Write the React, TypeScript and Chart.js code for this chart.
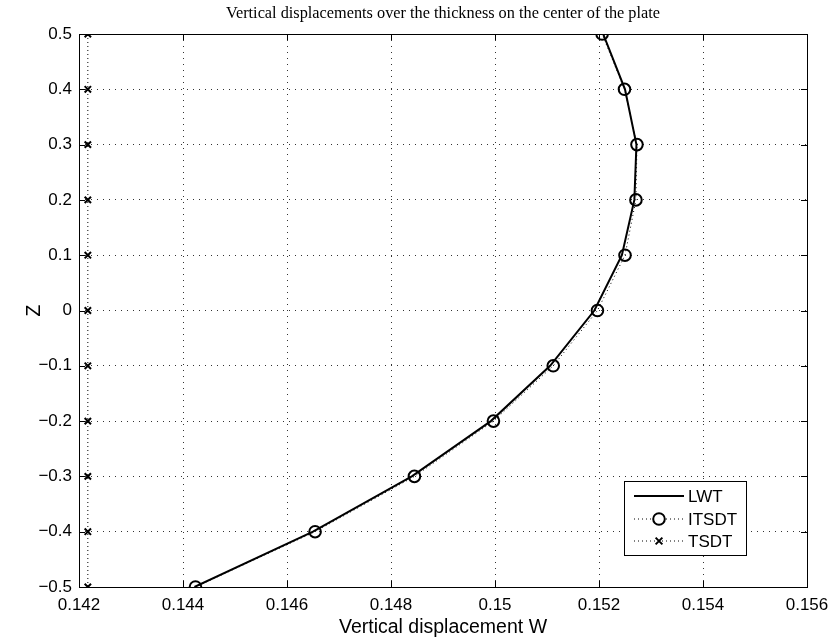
import React, { useEffect, useRef } from "react";
import { Chart, registerables } from "chart.js";

Chart.register(...registerables);

const zValues = [-0.5, -0.4, -0.3, -0.2, -0.1, 0, 0.1, 0.2, 0.3, 0.4, 0.5];
const lwtW = [0.14422, 0.1465, 0.1484, 0.14992, 0.15106, 0.15191, 0.15244, 0.15268, 0.15272, 0.1525, 0.15208];
const itsdtW = [0.14424, 0.14654, 0.14845, 0.14997, 0.15112, 0.15197, 0.1525, 0.15271, 0.15273, 0.15249, 0.15206];
const tsdtW = [0.14217, 0.14217, 0.14217, 0.14217, 0.14217, 0.14217, 0.14217, 0.14217, 0.14217, 0.14217, 0.14217];
const seriesLabels = ["LWT", "ITSDT", "TSDT"];
const titleText = "Vertical displacements over the thickness on the center of the plate";
const xTitle = "Vertical displacement W";
const yTitle = "Z";

const SANS = "'Liberation Sans', Arial, sans-serif";
const SERIF = "'Liberation Serif', 'Times New Roman', serif";

const boxPlugin = {
  id: "matlabBox",
  afterDraw(chart: any) {
    const { ctx, chartArea: a } = chart;
    ctx.save();
    ctx.fillStyle = "#000";
    ctx.font = "16.3px " + SERIF;
    ctx.textAlign = "center";
    ctx.textBaseline = "middle";
    ctx.fillText(chart.options.plugins.title.text, (a.left + a.right) / 2, 14);
    ctx.restore();
  },
  afterDatasetsDraw(chart: any) {
    const { ctx, chartArea: a, scales } = chart;
    ctx.save();
    ctx.strokeStyle = "#000";
    ctx.lineWidth = 1;
    ctx.setLineDash([]);
    const tl = 6;
    scales.x.ticks.forEach((t: any) => {
      const x = Math.round(scales.x.getPixelForValue(t.value)) + 0.5;
      ctx.beginPath();
      ctx.moveTo(x, a.bottom);
      ctx.lineTo(x, a.bottom - tl);
      ctx.moveTo(x, a.top);
      ctx.lineTo(x, a.top + tl);
      ctx.stroke();
    });
    scales.y.ticks.forEach((t: any) => {
      const y = Math.round(scales.y.getPixelForValue(t.value)) + 0.5;
      ctx.beginPath();
      ctx.moveTo(a.left, y);
      ctx.lineTo(a.left + tl, y);
      ctx.moveTo(a.right, y);
      ctx.lineTo(a.right - tl, y);
      ctx.stroke();
    });
    ctx.strokeRect(Math.round(a.left) + 0.5, Math.round(a.top) + 0.5, Math.round(a.right - a.left), Math.round(a.bottom - a.top));

    // legend
    const bx = 624.5, by = 481.5, bw = 122, bh = 74;
    ctx.fillStyle = "#fff";
    ctx.fillRect(bx, by, bw, bh);
    ctx.strokeRect(bx, by, bw, bh);
    const rows = [496, 519, 541];
    const ds = chart.data.datasets;
    ctx.font = "17px " + SANS;
    ctx.textBaseline = "middle";
    ctx.textAlign = "left";
    rows.forEach((ry: number, i: number) => {
      const d = ds[i];
      ctx.strokeStyle = "#000";
      ctx.lineWidth = d.borderWidth;
      ctx.setLineDash(d.borderDash || []);
      ctx.beginPath();
      ctx.moveTo(634, ry);
      ctx.lineTo(684, ry);
      ctx.stroke();
      ctx.setLineDash([]);
      if (d.pointStyle === "circle" && d.pointRadius > 0) {
        ctx.fillStyle = "#fff";
        ctx.lineWidth = 2;
        ctx.beginPath();
        ctx.arc(659, ry, d.pointRadius, 0, Math.PI * 2);
        ctx.fill();
        ctx.stroke();
      } else if (d.pointStyle === "crossRot" && d.pointRadius > 0) {
        const r = d.pointRadius * 0.75;
        ctx.lineWidth = 2;
        ctx.beginPath();
        ctx.moveTo(659 - r, ry - r);
        ctx.lineTo(659 + r, ry + r);
        ctx.moveTo(659 + r, ry - r);
        ctx.lineTo(659 - r, ry + r);
        ctx.stroke();
      }
      ctx.fillStyle = "#000";
      ctx.fillText(d.label, 688, ry + 1);
    });
    ctx.restore();
  },
};

export default function App() {
  const ref = useRef<HTMLCanvasElement>(null);
  useEffect(() => {
    if (!ref.current) return;
    const mk = (w: number[]) => zValues.map((z, i) => ({ x: w[i], y: z }));
    const chart = new Chart(ref.current, {
      type: "line",
      data: {
        datasets: [
          {
            label: seriesLabels[0],
            data: mk(lwtW),
            borderColor: "#000",
            borderWidth: 2,
            pointRadius: 0,
            pointStyle: "circle",
            fill: false,
          },
          {
            label: seriesLabels[1],
            data: mk(itsdtW),
            borderColor: "#000",
            borderWidth: 1,
            borderDash: [1, 3],
            pointRadius: 5.8,
            pointStyle: "circle",
            pointBorderWidth: 2,
            pointBackgroundColor: "rgba(0,0,0,0)",
            pointBorderColor: "#000",
            fill: false,
          },
          {
            label: seriesLabels[2],
            data: mk(tsdtW),
            borderColor: "#000",
            borderWidth: 1,
            borderDash: [1, 3],
            pointRadius: 4.5,
            pointStyle: "crossRot",
            pointBorderWidth: 2,
            pointBorderColor: "#000",
            fill: false,
          },
        ] as any,
      },
      options: {
        responsive: false,
        animation: false,
        maintainAspectRatio: false,
        layout: { padding: { top: 34, right: 25, bottom: 0, left: 0 } },
        plugins: {
          legend: { display: false },
          tooltip: { enabled: false },
          title: { display: false, text: titleText },
        },
        scales: {
          x: {
            type: "linear",
            min: 0.142,
            max: 0.156,
            border: { display: false, dash: [1, 5] },
            ticks: {
              stepSize: 0.002,
              color: "#000",
              font: { family: SANS, size: 17 },
              padding: 8,
              maxRotation: 0,
              callback: (v: any) => String(Number(Number(v).toFixed(3))),
            },
            grid: {
              drawTicks: false,
              color: "#333",
              lineWidth: 1,
            },
            title: {
              display: true,
              text: xTitle,
              color: "#000",
              font: { family: SANS, size: 19.5 },
              padding: { top: 0, bottom: 0 },
            },
            afterFit: (s: any) => {
              s.height = 52;
              s.paddingLeft = 0;
              s.paddingRight = 0;
            },
          },
          y: {
            type: "linear",
            min: -0.5,
            max: 0.5,
            border: { display: false, dash: [1, 5] },
            ticks: {
              stepSize: 0.1,
              color: "#000",
              font: { family: SANS, size: 17 },
              padding: 7,
              callback: (v: any) => {
                const n = Number(Number(v).toFixed(1));
                if (n === 0) return "0";
                return n < 0 ? "\u2212" + String(-n) : String(n);
              },
            },
            grid: {
              drawTicks: false,
              color: "#333",
              lineWidth: 1,
            },
            title: {
              display: true,
              text: yTitle,
              color: "#000",
              font: { family: SANS, size: 19.5 },
              padding: { top: 23, bottom: 0 },
            },
            afterFit: (s: any) => {
              s.width = 79;
              s.paddingTop = 0;
              s.paddingBottom = 0;
            },
          },
        },
      } as any,
      plugins: [boxPlugin],
    });
    return () => chart.destroy();
  }, []);
  return (
    <div style={{ position: "fixed", left: 0, top: 0, width: 832, height: 639, background: "#fff" }}>
      <canvas ref={ref} width={832} height={639} style={{ width: 832, height: 639 }} />
    </div>
  );
}
